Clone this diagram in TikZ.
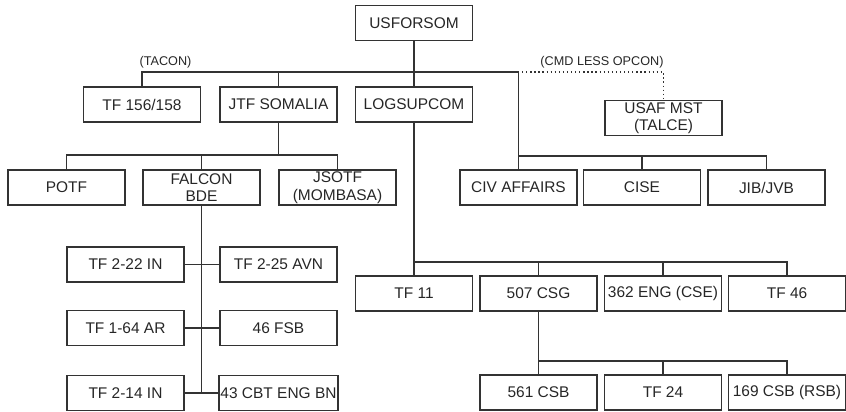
\documentclass[tikz,border=0pt]{standalone}
\usepackage{fontspec}
\setmainfont{Liberation Sans}

\begin{document}
\begin{tikzpicture}[x=0.025cm, y=-0.025cm, line width=0.9pt, draw=black!80,
    every node/.style={font=\fontsize{11}{12.5}\selectfont, text=black!85},
    unit/.style={draw=black!80, rectangle, minimum width=2.925cm, minimum height=0.875cm, align=center, inner sep=1pt},
    tag/.style={font=\fontsize{9}{10}\selectfont}]
    \useasboundingbox (0,0) rectangle (846,412);
    % Top levels
    \node[unit] (usforsom) at (414,23) {USFORSOM};
    \node[unit] (tf156) at (142,104.5) {TF 156/158};
    \node[unit] (jtf) at (278.5,104.5) {JTF SOMALIA};
    \node[unit] (logsup) at (414,104.5) {LOGSUPCOM};
    \node[unit] (usaf) at (663.5,118) {USAF MST\\(TALCE)};
    \node[tag] (tacon) at (165.5,62) {(TACON)};
    \node[tag] (opcon) at (602,62) {(CMD LESS OPCON)};
    \coordinate (topbar) at (414,72);
    \coordinate (opconbar) at (518,72);

    \draw (usforsom) -- (logsup);
    \draw (tf156.north) |- (topbar);
    \draw (jtf.north) |- (topbar);
    \draw[dotted] (opconbar) -| (usaf.north);

    % JTF SOMALIA
    \node[unit] (potf) at (66.5,187.5) {POTF};
    \node[unit] (falcon) at (201.5,187.5) {FALCON\\BDE};
    \node[unit] (jsotf) at (337.5,187.5) {JSOTF\\(MOMBASA)};
    \coordinate (jtfbar) at (278.5,155);
    \draw (jtf) -- (jtfbar);
    \draw (potf.north) |- (jtfbar);
    \draw (falcon.north) |- (jtfbar);
    \draw (jsotf.north) |- (jtfbar);

    % Staff
    \node[unit] (civ) at (518.5,187.5) {CIV AFFAIRS};
    \node[unit] (cise) at (642,187.5) {CISE};
    \node[unit] (jib) at (766.5,187.5) {JIB/JVB};
    \coordinate (civbar) at (518.5,156);
    \draw (civ.north) |- (topbar);
    \draw (cise.north) |- (civbar);
    \draw (jib.north) |- (civbar);

    % FALCON BDE
    \node[unit] (tf222) at (125.5,264.5) {TF 2-22 IN};
    \node[unit] (tf225) at (278.5,264.5) {TF 2-25 AVN};
    \node[unit] (tf164) at (125.5,328) {TF 1-64 AR};
    \node[unit] (fsb46) at (278.5,328) {46 FSB};
    \node[unit] (tf214) at (125.5,393) {TF 2-14 IN};
    \node[unit] (eng43) at (278.5,393) {43 CBT ENG BN};
    \coordinate (falconend) at (201.5,393);
    \draw (falcon) -- (falconend);
    \draw (tf222) -- (tf225);
    \draw (tf164) -- (fsb46);
    \draw (tf214) -- (eng43);

    % LOGSUPCOM
    \node[unit] (tf11) at (414,293.5) {TF 11};
    \node[unit] (csg507) at (538.5,293.5) {507 CSG};
    \node[unit] (eng362) at (663,293.5) {362 ENG (CSE)};
    \node[unit] (tf46) at (787,293.5) {TF 46};
    \coordinate (logbar) at (414,262);
    \draw (logsup) -- (tf11);
    \draw (csg507.north) |- (logbar);
    \draw (eng362.north) |- (logbar);
    \draw (tf46.north) |- (logbar);

    % 507 CSG
    \node[unit] (csb561) at (538.5,392.5) {561 CSB};
    \node[unit] (tf24) at (663,392.5) {TF 24};
    \node[unit] (csb169) at (787,392.5) {169 CSB (RSB)};
    \coordinate (csgbar) at (538.5,361);
    \draw (csg507) -- (csb561);
    \draw (tf24.north) |- (csgbar);
    \draw (csb169.north) |- (csgbar);
\end{tikzpicture}
\end{document}
